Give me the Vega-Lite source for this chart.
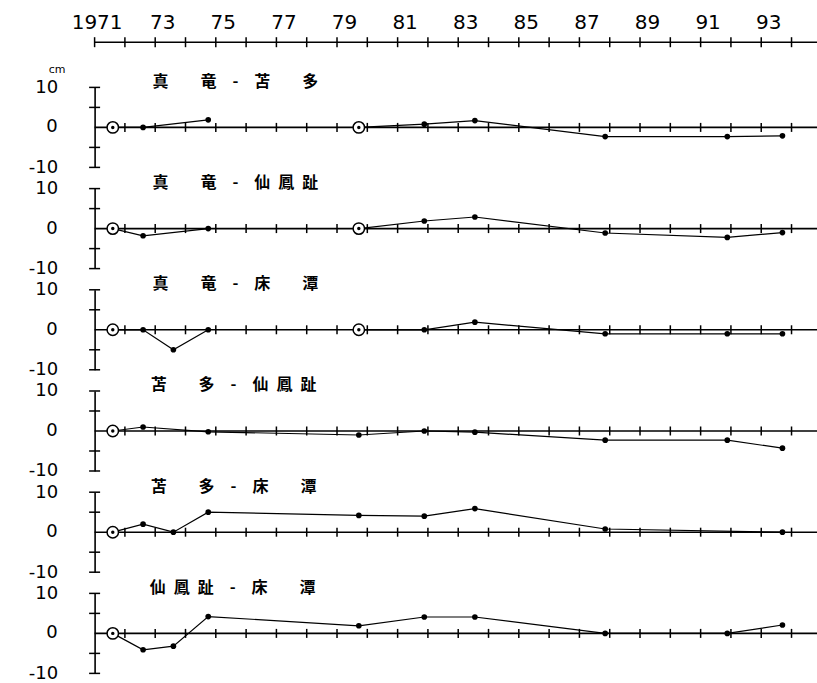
{
  "$schema": "https://vega.github.io/schema/vega-lite/v6.json",
  "padding": {"left": 27.6, "top": 12.2, "right": 0, "bottom": 2},
  "background": "white",
  "bounds": "flush",
  "spacing": 21.2,
  "config": {
    "view": {"stroke": null},
    "font": "DejaVu Sans",
    "axisY": {"labelOverlap": false, "labelBound": false, "labelExpr": "toString(datum.value)", "ticks": false, "domain": true, "domainColor": "black", "domainWidth": 1.6, "grid": false, "labelFont": "DejaVu Sans", "labelFontSize": 18, "labelColor": "black", "labelPadding": 37, "labelFlush": false}
  },
  "datasets": {
    "yearticks": [{"year":1971},{"year":1972},{"year":1973},{"year":1974},{"year":1975},{"year":1976},{"year":1977},{"year":1978},{"year":1979},{"year":1980},{"year":1981},{"year":1982},{"year":1983},{"year":1984},{"year":1985},{"year":1986},{"year":1987},{"year":1988},{"year":1989},{"year":1990},{"year":1991},{"year":1992},{"year":1993},{"year":1994}],
    "ycaps": [{"v":-10},{"v":-5},{"v":5},{"v":10}],
    "obs": [
      {"pair":"真竜-苫多","year":1971.6,"value":0,"seg":"a","kind":"base"},
      {"pair":"真竜-苫多","year":1972.6,"value":0,"seg":"a","kind":"obs"},
      {"pair":"真竜-苫多","year":1974.75,"value":1.9,"seg":"a","kind":"obs"},
      {"pair":"真竜-苫多","year":1979.72,"value":0,"seg":"b","kind":"base"},
      {"pair":"真竜-苫多","year":1981.88,"value":0.8,"seg":"b","kind":"obs"},
      {"pair":"真竜-苫多","year":1983.55,"value":1.7,"seg":"b","kind":"obs"},
      {"pair":"真竜-苫多","year":1987.85,"value":-2.3,"seg":"b","kind":"obs"},
      {"pair":"真竜-苫多","year":1991.88,"value":-2.3,"seg":"b","kind":"obs"},
      {"pair":"真竜-苫多","year":1993.7,"value":-2.1,"seg":"b","kind":"obs"},

      {"pair":"真竜-仙鳳趾","year":1971.6,"value":0,"seg":"a","kind":"base"},
      {"pair":"真竜-仙鳳趾","year":1972.6,"value":-1.8,"seg":"a","kind":"obs"},
      {"pair":"真竜-仙鳳趾","year":1974.75,"value":0,"seg":"a","kind":"obs"},
      {"pair":"真竜-仙鳳趾","year":1979.72,"value":0,"seg":"b","kind":"base"},
      {"pair":"真竜-仙鳳趾","year":1981.88,"value":1.9,"seg":"b","kind":"obs"},
      {"pair":"真竜-仙鳳趾","year":1983.55,"value":2.9,"seg":"b","kind":"obs"},
      {"pair":"真竜-仙鳳趾","year":1987.85,"value":-1.1,"seg":"b","kind":"obs"},
      {"pair":"真竜-仙鳳趾","year":1991.88,"value":-2.2,"seg":"b","kind":"obs"},
      {"pair":"真竜-仙鳳趾","year":1993.7,"value":-1.0,"seg":"b","kind":"obs"},

      {"pair":"真竜-床潭","year":1971.6,"value":0,"seg":"a","kind":"base"},
      {"pair":"真竜-床潭","year":1972.6,"value":0,"seg":"a","kind":"obs"},
      {"pair":"真竜-床潭","year":1973.6,"value":-5,"seg":"a","kind":"obs"},
      {"pair":"真竜-床潭","year":1974.75,"value":0,"seg":"a","kind":"obs"},
      {"pair":"真竜-床潭","year":1979.72,"value":0,"seg":"b","kind":"base"},
      {"pair":"真竜-床潭","year":1981.88,"value":0,"seg":"b","kind":"obs"},
      {"pair":"真竜-床潭","year":1983.55,"value":1.9,"seg":"b","kind":"obs"},
      {"pair":"真竜-床潭","year":1987.85,"value":-1.0,"seg":"b","kind":"obs"},
      {"pair":"真竜-床潭","year":1991.88,"value":-1.0,"seg":"b","kind":"obs"},
      {"pair":"真竜-床潭","year":1993.7,"value":-1.0,"seg":"b","kind":"obs"},

      {"pair":"苫多-仙鳳趾","year":1971.6,"value":0,"seg":"a","kind":"base"},
      {"pair":"苫多-仙鳳趾","year":1972.6,"value":1.0,"seg":"a","kind":"obs"},
      {"pair":"苫多-仙鳳趾","year":1974.75,"value":-0.2,"seg":"a","kind":"obs"},
      {"pair":"苫多-仙鳳趾","year":1979.72,"value":-1.0,"seg":"a","kind":"obs"},
      {"pair":"苫多-仙鳳趾","year":1981.88,"value":0,"seg":"a","kind":"obs"},
      {"pair":"苫多-仙鳳趾","year":1983.55,"value":-0.3,"seg":"a","kind":"obs"},
      {"pair":"苫多-仙鳳趾","year":1987.85,"value":-2.3,"seg":"a","kind":"obs"},
      {"pair":"苫多-仙鳳趾","year":1991.88,"value":-2.3,"seg":"a","kind":"obs"},
      {"pair":"苫多-仙鳳趾","year":1993.7,"value":-4.3,"seg":"a","kind":"obs"},

      {"pair":"苫多-床潭","year":1971.6,"value":0,"seg":"a","kind":"base"},
      {"pair":"苫多-床潭","year":1972.6,"value":2.0,"seg":"a","kind":"obs"},
      {"pair":"苫多-床潭","year":1973.6,"value":0,"seg":"a","kind":"obs"},
      {"pair":"苫多-床潭","year":1974.75,"value":5.0,"seg":"a","kind":"obs"},
      {"pair":"苫多-床潭","year":1979.72,"value":4.2,"seg":"a","kind":"obs"},
      {"pair":"苫多-床潭","year":1981.88,"value":4.0,"seg":"a","kind":"obs"},
      {"pair":"苫多-床潭","year":1983.55,"value":5.9,"seg":"a","kind":"obs"},
      {"pair":"苫多-床潭","year":1987.85,"value":0.8,"seg":"a","kind":"obs"},
      {"pair":"苫多-床潭","year":1993.7,"value":0,"seg":"a","kind":"obs"},

      {"pair":"仙鳳趾-床潭","year":1971.6,"value":0,"seg":"a","kind":"base"},
      {"pair":"仙鳳趾-床潭","year":1972.6,"value":-4.1,"seg":"a","kind":"obs"},
      {"pair":"仙鳳趾-床潭","year":1973.6,"value":-3.2,"seg":"a","kind":"obs"},
      {"pair":"仙鳳趾-床潭","year":1974.75,"value":4.2,"seg":"a","kind":"obs"},
      {"pair":"仙鳳趾-床潭","year":1979.72,"value":1.9,"seg":"a","kind":"obs"},
      {"pair":"仙鳳趾-床潭","year":1981.88,"value":4.1,"seg":"a","kind":"obs"},
      {"pair":"仙鳳趾-床潭","year":1983.55,"value":4.1,"seg":"a","kind":"obs"},
      {"pair":"仙鳳趾-床潭","year":1987.85,"value":0,"seg":"a","kind":"obs"},
      {"pair":"仙鳳趾-床潭","year":1991.88,"value":0,"seg":"a","kind":"obs"},
      {"pair":"仙鳳趾-床潭","year":1993.7,"value":2.1,"seg":"a","kind":"obs"}
    ]
  },
  "vconcat": [
    {
      "width": 723, "height": 23.8,
      "layer": [
        {"data": {"values": [{}]}, "mark": {"type": "rule", "color": "black", "strokeWidth": 1.6},
         "encoding": {"y": {"datum": 1, "type": "quantitative", "scale": {"domain": [0, 1]}, "axis": null}}},
        {"data": {"name": "yearticks"}, "mark": {"type": "tick", "orient": "vertical", "color": "black", "thickness": 1.5, "size": 10, "opacity": 1},
         "encoding": {
           "x": {"field": "year", "type": "quantitative", "scale": {"domain": [1971, 1994.86], "nice": false, "zero": false},
                 "axis": {"orient": "top", "values": [1971,1973,1975,1977,1979,1981,1983,1985,1987,1989,1991,1993], "domain": false, "ticks": false, "grid": false, "title": null,
                          "labelExpr": "datum.value == 1971 ? '1971' : substring(toString(datum.value), 2, 4)",
                          "labelFont": "DejaVu Sans", "labelFontSize": 20, "labelColor": "black", "labelPadding": 9.5, "labelFlush": false, "labelOverlap": false,
                          "labelOffset": {"condition": {"test": "datum.value == 1971", "value": 2}, "value": 7}}},
           "y": {"datum": 1, "type": "quantitative", "axis": null}}}
      ]
    },
    {
      "width": 723, "height": 80,
      "layer": [
        {"data": {"values": [{}]}, "mark": {"type": "rule", "color": "black", "strokeWidth": 1.6},
         "encoding": {"y": {"datum": 0, "type": "quantitative", "scale": {"domain": [-10, 10]}, "title": "cm",
           "axis": {"values": [-10, 0, 10], "labelOverlap": false, "title": "cm", "titleAngle": 0, "titleX": -38, "titleY": -15, "titleAlign": "center", "titleBaseline": "alphabetic", "titleFont": "DejaVu Sans", "titleFontSize": 11, "titleFontWeight": "normal", "titleColor": "black"}}}},
        {"data": {"values": [{"label": "真\u2002\u3000\u2002竜\u2003-\u2003苫\u2002\u3000\u2002多"}]}, "mark": {"type": "text", "align": "left", "baseline": "middle", "font": "Noto Sans CJK JP", "fontSize": 16, "fontWeight": "bold", "color": "black"},
         "encoding": {"x": {"datum": 1972.91, "type": "quantitative", "axis": null}, "y": {"datum": 11.4, "type": "quantitative", "title": "cm"}, "text": {"field": "label"}}},
        {"data": {"values": [{"label": "0"}]}, "mark": {"type": "text", "align": "right", "baseline": "middle", "dx": -37, "font": "DejaVu Sans", "fontSize": 18, "color": "black"},
         "encoding": {"x": {"datum": 1971, "type": "quantitative", "axis": null}, "y": {"datum": 0, "type": "quantitative", "title": "cm"}, "text": {"field": "label"}}},
        {"data": {"name": "yearticks"}, "transform": [{"filter": "datum.year >= 1972"}], "mark": {"type": "tick", "orient": "vertical", "color": "black", "thickness": 1.5, "size": 9, "opacity": 1},
         "encoding": {"x": {"field": "year", "type": "quantitative", "scale": {"domain": [1971, 1994.86], "nice": false, "zero": false}, "axis": null}, "y": {"datum": 0, "type": "quantitative", "title": "cm"}}},
        {"data": {"name": "ycaps"}, "mark": {"type": "tick", "orient": "horizontal", "color": "black", "thickness": 1.5, "size": 11, "opacity": 1},
         "encoding": {"x": {"datum": 1971, "type": "quantitative", "axis": null}, "y": {"field": "v", "type": "quantitative", "title": "cm"}}},
        {"data": {"name": "obs"}, "transform": [{"filter": "datum.pair == '真竜-苫多'"}], "mark": {"type": "line", "color": "black", "strokeWidth": 1.2},
         "encoding": {"x": {"field": "year", "type": "quantitative", "axis": null}, "y": {"field": "value", "type": "quantitative", "title": "cm"}, "detail": {"field": "seg"}}},
        {"data": {"name": "obs"}, "transform": [{"filter": "datum.pair == '真竜-苫多' && datum.kind == 'base'"}], "mark": {"type": "point", "shape": "circle", "size": 130, "filled": true, "fill": "white", "stroke": "black", "strokeWidth": 1.5, "opacity": 1},
         "encoding": {"x": {"field": "year", "type": "quantitative", "axis": null}, "y": {"field": "value", "type": "quantitative", "title": "cm"}}},
        {"data": {"name": "obs"}, "transform": [{"filter": "datum.pair == '真竜-苫多'"}], "mark": {"type": "point", "shape": "circle", "filled": true, "color": "black", "opacity": 1},
         "encoding": {"x": {"field": "year", "type": "quantitative", "axis": null}, "y": {"field": "value", "type": "quantitative", "title": "cm"},
                      "size": {"field": "kind", "type": "nominal", "scale": {"domain": ["base", "obs"], "range": [12, 32]}, "legend": null}}}
      ]
    },
    {
      "width": 723, "height": 80,
      "layer": [
        {"data": {"values": [{}]}, "mark": {"type": "rule", "color": "black", "strokeWidth": 1.6},
         "encoding": {"y": {"datum": 0, "type": "quantitative", "scale": {"domain": [-10, 10]}, "axis": {"values": [-10, 0, 10], "labelOverlap": false, "title": null}}}},
        {"data": {"values": [{"label": "真\u2002\u3000\u2002竜\u2003-\u2003仙\u2002鳳\u2002趾"}]}, "mark": {"type": "text", "align": "left", "baseline": "middle", "font": "Noto Sans CJK JP", "fontSize": 16, "fontWeight": "bold", "color": "black"},
         "encoding": {"x": {"datum": 1972.91, "type": "quantitative", "axis": null}, "y": {"datum": 11.4, "type": "quantitative", "title": null}, "text": {"field": "label"}}},
        {"data": {"values": [{"label": "0"}]}, "mark": {"type": "text", "align": "right", "baseline": "middle", "dx": -37, "font": "DejaVu Sans", "fontSize": 18, "color": "black"},
         "encoding": {"x": {"datum": 1971, "type": "quantitative", "axis": null}, "y": {"datum": 0, "type": "quantitative", "title": null}, "text": {"field": "label"}}},
        {"data": {"name": "yearticks"}, "transform": [{"filter": "datum.year >= 1972"}], "mark": {"type": "tick", "orient": "vertical", "color": "black", "thickness": 1.5, "size": 9, "opacity": 1},
         "encoding": {"x": {"field": "year", "type": "quantitative", "scale": {"domain": [1971, 1994.86], "nice": false, "zero": false}, "axis": null}, "y": {"datum": 0, "type": "quantitative", "title": null}}},
        {"data": {"name": "ycaps"}, "mark": {"type": "tick", "orient": "horizontal", "color": "black", "thickness": 1.5, "size": 11, "opacity": 1},
         "encoding": {"x": {"datum": 1971, "type": "quantitative", "axis": null}, "y": {"field": "v", "type": "quantitative", "title": null}}},
        {"data": {"name": "obs"}, "transform": [{"filter": "datum.pair == '真竜-仙鳳趾'"}], "mark": {"type": "line", "color": "black", "strokeWidth": 1.2},
         "encoding": {"x": {"field": "year", "type": "quantitative", "axis": null}, "y": {"field": "value", "type": "quantitative", "title": null}, "detail": {"field": "seg"}}},
        {"data": {"name": "obs"}, "transform": [{"filter": "datum.pair == '真竜-仙鳳趾' && datum.kind == 'base'"}], "mark": {"type": "point", "shape": "circle", "size": 130, "filled": true, "fill": "white", "stroke": "black", "strokeWidth": 1.5, "opacity": 1},
         "encoding": {"x": {"field": "year", "type": "quantitative", "axis": null}, "y": {"field": "value", "type": "quantitative", "title": null}}},
        {"data": {"name": "obs"}, "transform": [{"filter": "datum.pair == '真竜-仙鳳趾'"}], "mark": {"type": "point", "shape": "circle", "filled": true, "color": "black", "opacity": 1},
         "encoding": {"x": {"field": "year", "type": "quantitative", "axis": null}, "y": {"field": "value", "type": "quantitative", "title": null},
                      "size": {"field": "kind", "type": "nominal", "scale": {"domain": ["base", "obs"], "range": [12, 32]}, "legend": null}}}
      ]
    },
    {
      "width": 723, "height": 80,
      "layer": [
        {"data": {"values": [{}]}, "mark": {"type": "rule", "color": "black", "strokeWidth": 1.6},
         "encoding": {"y": {"datum": 0, "type": "quantitative", "scale": {"domain": [-10, 10]}, "axis": {"values": [-10, 0, 10], "labelOverlap": false, "title": null}}}},
        {"data": {"values": [{"label": "真\u2002\u3000\u2002竜\u2003-\u2003床\u2002\u3000\u2002潭"}]}, "mark": {"type": "text", "align": "left", "baseline": "middle", "font": "Noto Sans CJK JP", "fontSize": 16, "fontWeight": "bold", "color": "black"},
         "encoding": {"x": {"datum": 1972.91, "type": "quantitative", "axis": null}, "y": {"datum": 11.4, "type": "quantitative", "title": null}, "text": {"field": "label"}}},
        {"data": {"values": [{"label": "0"}]}, "mark": {"type": "text", "align": "right", "baseline": "middle", "dx": -37, "font": "DejaVu Sans", "fontSize": 18, "color": "black"},
         "encoding": {"x": {"datum": 1971, "type": "quantitative", "axis": null}, "y": {"datum": 0, "type": "quantitative", "title": null}, "text": {"field": "label"}}},
        {"data": {"name": "yearticks"}, "transform": [{"filter": "datum.year >= 1972"}], "mark": {"type": "tick", "orient": "vertical", "color": "black", "thickness": 1.5, "size": 9, "opacity": 1},
         "encoding": {"x": {"field": "year", "type": "quantitative", "scale": {"domain": [1971, 1994.86], "nice": false, "zero": false}, "axis": null}, "y": {"datum": 0, "type": "quantitative", "title": null}}},
        {"data": {"name": "ycaps"}, "mark": {"type": "tick", "orient": "horizontal", "color": "black", "thickness": 1.5, "size": 11, "opacity": 1},
         "encoding": {"x": {"datum": 1971, "type": "quantitative", "axis": null}, "y": {"field": "v", "type": "quantitative", "title": null}}},
        {"data": {"name": "obs"}, "transform": [{"filter": "datum.pair == '真竜-床潭'"}], "mark": {"type": "line", "color": "black", "strokeWidth": 1.2},
         "encoding": {"x": {"field": "year", "type": "quantitative", "axis": null}, "y": {"field": "value", "type": "quantitative", "title": null}, "detail": {"field": "seg"}}},
        {"data": {"name": "obs"}, "transform": [{"filter": "datum.pair == '真竜-床潭' && datum.kind == 'base'"}], "mark": {"type": "point", "shape": "circle", "size": 130, "filled": true, "fill": "white", "stroke": "black", "strokeWidth": 1.5, "opacity": 1},
         "encoding": {"x": {"field": "year", "type": "quantitative", "axis": null}, "y": {"field": "value", "type": "quantitative", "title": null}}},
        {"data": {"name": "obs"}, "transform": [{"filter": "datum.pair == '真竜-床潭'"}], "mark": {"type": "point", "shape": "circle", "filled": true, "color": "black", "opacity": 1},
         "encoding": {"x": {"field": "year", "type": "quantitative", "axis": null}, "y": {"field": "value", "type": "quantitative", "title": null},
                      "size": {"field": "kind", "type": "nominal", "scale": {"domain": ["base", "obs"], "range": [12, 32]}, "legend": null}}}
      ]
    },
    {
      "width": 723, "height": 80,
      "layer": [
        {"data": {"values": [{}]}, "mark": {"type": "rule", "color": "black", "strokeWidth": 1.6},
         "encoding": {"y": {"datum": 0, "type": "quantitative", "scale": {"domain": [-10, 10]}, "axis": {"values": [-10, 0, 10], "labelOverlap": false, "title": null}}}},
        {"data": {"values": [{"label": "苫\u2002\u3000\u2002多\u2003-\u2003仙\u2002鳳\u2002趾"}]}, "mark": {"type": "text", "align": "left", "baseline": "middle", "font": "Noto Sans CJK JP", "fontSize": 16, "fontWeight": "bold", "color": "black"},
         "encoding": {"x": {"datum": 1972.85, "type": "quantitative", "axis": null}, "y": {"datum": 11.4, "type": "quantitative", "title": null}, "text": {"field": "label"}}},
        {"data": {"values": [{"label": "0"}]}, "mark": {"type": "text", "align": "right", "baseline": "middle", "dx": -37, "font": "DejaVu Sans", "fontSize": 18, "color": "black"},
         "encoding": {"x": {"datum": 1971, "type": "quantitative", "axis": null}, "y": {"datum": 0, "type": "quantitative", "title": null}, "text": {"field": "label"}}},
        {"data": {"name": "yearticks"}, "transform": [{"filter": "datum.year >= 1972"}], "mark": {"type": "tick", "orient": "vertical", "color": "black", "thickness": 1.5, "size": 9, "opacity": 1},
         "encoding": {"x": {"field": "year", "type": "quantitative", "scale": {"domain": [1971, 1994.86], "nice": false, "zero": false}, "axis": null}, "y": {"datum": 0, "type": "quantitative", "title": null}}},
        {"data": {"name": "ycaps"}, "mark": {"type": "tick", "orient": "horizontal", "color": "black", "thickness": 1.5, "size": 11, "opacity": 1},
         "encoding": {"x": {"datum": 1971, "type": "quantitative", "axis": null}, "y": {"field": "v", "type": "quantitative", "title": null}}},
        {"data": {"name": "obs"}, "transform": [{"filter": "datum.pair == '苫多-仙鳳趾'"}], "mark": {"type": "line", "color": "black", "strokeWidth": 1.2},
         "encoding": {"x": {"field": "year", "type": "quantitative", "axis": null}, "y": {"field": "value", "type": "quantitative", "title": null}, "detail": {"field": "seg"}}},
        {"data": {"name": "obs"}, "transform": [{"filter": "datum.pair == '苫多-仙鳳趾' && datum.kind == 'base'"}], "mark": {"type": "point", "shape": "circle", "size": 130, "filled": true, "fill": "white", "stroke": "black", "strokeWidth": 1.5, "opacity": 1},
         "encoding": {"x": {"field": "year", "type": "quantitative", "axis": null}, "y": {"field": "value", "type": "quantitative", "title": null}}},
        {"data": {"name": "obs"}, "transform": [{"filter": "datum.pair == '苫多-仙鳳趾'"}], "mark": {"type": "point", "shape": "circle", "filled": true, "color": "black", "opacity": 1},
         "encoding": {"x": {"field": "year", "type": "quantitative", "axis": null}, "y": {"field": "value", "type": "quantitative", "title": null},
                      "size": {"field": "kind", "type": "nominal", "scale": {"domain": ["base", "obs"], "range": [12, 32]}, "legend": null}}}
      ]
    },
    {
      "width": 723, "height": 80,
      "layer": [
        {"data": {"values": [{}]}, "mark": {"type": "rule", "color": "black", "strokeWidth": 1.6},
         "encoding": {"y": {"datum": 0, "type": "quantitative", "scale": {"domain": [-10, 10]}, "axis": {"values": [-10, 0, 10], "labelOverlap": false, "title": null}}}},
        {"data": {"values": [{"label": "苫\u2002\u3000\u2002多\u2003-\u2003床\u2002\u3000\u2002潭"}]}, "mark": {"type": "text", "align": "left", "baseline": "middle", "font": "Noto Sans CJK JP", "fontSize": 16, "fontWeight": "bold", "color": "black"},
         "encoding": {"x": {"datum": 1972.85, "type": "quantitative", "axis": null}, "y": {"datum": 11.4, "type": "quantitative", "title": null}, "text": {"field": "label"}}},
        {"data": {"values": [{"label": "0"}]}, "mark": {"type": "text", "align": "right", "baseline": "middle", "dx": -37, "font": "DejaVu Sans", "fontSize": 18, "color": "black"},
         "encoding": {"x": {"datum": 1971, "type": "quantitative", "axis": null}, "y": {"datum": 0, "type": "quantitative", "title": null}, "text": {"field": "label"}}},
        {"data": {"name": "yearticks"}, "transform": [{"filter": "datum.year >= 1972"}], "mark": {"type": "tick", "orient": "vertical", "color": "black", "thickness": 1.5, "size": 9, "opacity": 1},
         "encoding": {"x": {"field": "year", "type": "quantitative", "scale": {"domain": [1971, 1994.86], "nice": false, "zero": false}, "axis": null}, "y": {"datum": 0, "type": "quantitative", "title": null}}},
        {"data": {"name": "ycaps"}, "mark": {"type": "tick", "orient": "horizontal", "color": "black", "thickness": 1.5, "size": 11, "opacity": 1},
         "encoding": {"x": {"datum": 1971, "type": "quantitative", "axis": null}, "y": {"field": "v", "type": "quantitative", "title": null}}},
        {"data": {"name": "obs"}, "transform": [{"filter": "datum.pair == '苫多-床潭'"}], "mark": {"type": "line", "color": "black", "strokeWidth": 1.2},
         "encoding": {"x": {"field": "year", "type": "quantitative", "axis": null}, "y": {"field": "value", "type": "quantitative", "title": null}, "detail": {"field": "seg"}}},
        {"data": {"name": "obs"}, "transform": [{"filter": "datum.pair == '苫多-床潭' && datum.kind == 'base'"}], "mark": {"type": "point", "shape": "circle", "size": 130, "filled": true, "fill": "white", "stroke": "black", "strokeWidth": 1.5, "opacity": 1},
         "encoding": {"x": {"field": "year", "type": "quantitative", "axis": null}, "y": {"field": "value", "type": "quantitative", "title": null}}},
        {"data": {"name": "obs"}, "transform": [{"filter": "datum.pair == '苫多-床潭'"}], "mark": {"type": "point", "shape": "circle", "filled": true, "color": "black", "opacity": 1},
         "encoding": {"x": {"field": "year", "type": "quantitative", "axis": null}, "y": {"field": "value", "type": "quantitative", "title": null},
                      "size": {"field": "kind", "type": "nominal", "scale": {"domain": ["base", "obs"], "range": [12, 32]}, "legend": null}}}
      ]
    },
    {
      "width": 723, "height": 80,
      "layer": [
        {"data": {"values": [{}]}, "mark": {"type": "rule", "color": "black", "strokeWidth": 1.6},
         "encoding": {"y": {"datum": 0, "type": "quantitative", "scale": {"domain": [-10, 10]}, "axis": {"values": [-10, 0, 10], "labelOverlap": false, "title": null}}}},
        {"data": {"values": [{"label": "仙\u2002鳳\u2002趾\u2003-\u2003床\u2002\u3000\u2002潭"}]}, "mark": {"type": "text", "align": "left", "baseline": "middle", "font": "Noto Sans CJK JP", "fontSize": 16, "fontWeight": "bold", "color": "black"},
         "encoding": {"x": {"datum": 1972.82, "type": "quantitative", "axis": null}, "y": {"datum": 11.4, "type": "quantitative", "title": null}, "text": {"field": "label"}}},
        {"data": {"values": [{"label": "0"}]}, "mark": {"type": "text", "align": "right", "baseline": "middle", "dx": -37, "font": "DejaVu Sans", "fontSize": 18, "color": "black"},
         "encoding": {"x": {"datum": 1971, "type": "quantitative", "axis": null}, "y": {"datum": 0, "type": "quantitative", "title": null}, "text": {"field": "label"}}},
        {"data": {"name": "yearticks"}, "transform": [{"filter": "datum.year >= 1972"}], "mark": {"type": "tick", "orient": "vertical", "color": "black", "thickness": 1.5, "size": 9, "opacity": 1},
         "encoding": {"x": {"field": "year", "type": "quantitative", "scale": {"domain": [1971, 1994.86], "nice": false, "zero": false}, "axis": null}, "y": {"datum": 0, "type": "quantitative", "title": null}}},
        {"data": {"name": "ycaps"}, "mark": {"type": "tick", "orient": "horizontal", "color": "black", "thickness": 1.5, "size": 11, "opacity": 1},
         "encoding": {"x": {"datum": 1971, "type": "quantitative", "axis": null}, "y": {"field": "v", "type": "quantitative", "title": null}}},
        {"data": {"name": "obs"}, "transform": [{"filter": "datum.pair == '仙鳳趾-床潭'"}], "mark": {"type": "line", "color": "black", "strokeWidth": 1.2},
         "encoding": {"x": {"field": "year", "type": "quantitative", "axis": null}, "y": {"field": "value", "type": "quantitative", "title": null}, "detail": {"field": "seg"}}},
        {"data": {"name": "obs"}, "transform": [{"filter": "datum.pair == '仙鳳趾-床潭' && datum.kind == 'base'"}], "mark": {"type": "point", "shape": "circle", "size": 130, "filled": true, "fill": "white", "stroke": "black", "strokeWidth": 1.5, "opacity": 1},
         "encoding": {"x": {"field": "year", "type": "quantitative", "axis": null}, "y": {"field": "value", "type": "quantitative", "title": null}}},
        {"data": {"name": "obs"}, "transform": [{"filter": "datum.pair == '仙鳳趾-床潭'"}], "mark": {"type": "point", "shape": "circle", "filled": true, "color": "black", "opacity": 1},
         "encoding": {"x": {"field": "year", "type": "quantitative", "axis": null}, "y": {"field": "value", "type": "quantitative", "title": null},
                      "size": {"field": "kind", "type": "nominal", "scale": {"domain": ["base", "obs"], "range": [12, 32]}, "legend": null}}}
      ]
    }
  ]
}
